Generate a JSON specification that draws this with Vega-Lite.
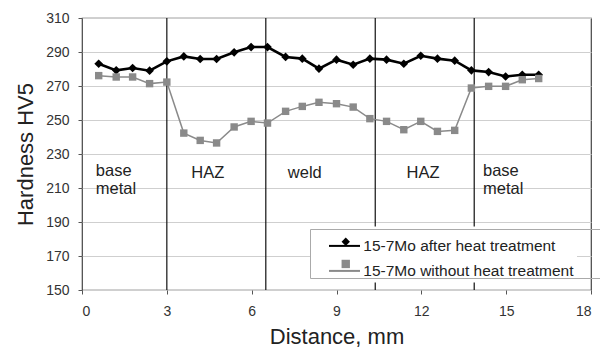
{
  "$schema": "https://vega.github.io/schema/vega-lite/v6.json",
  "autosize": "none",
  "width": 509,
  "height": 272,
  "padding": {"left": 82, "top": 18, "right": 9, "bottom": 59},
  "background": "white",
  "config": {
    "font": "Liberation Sans",
    "view": {"stroke": "#444", "strokeWidth": 1.2},
    "axis": {"labelFont": "Liberation Sans", "titleFont": "Liberation Sans", "titleFontWeight": "normal", "labelFontSize": 14, "labelColor": "#333", "titleColor": "#222", "titleFontSize": 22, "tickColor": "#555", "tickSize": 4, "domain": false, "labelOverlap": false}
  },
  "datasets": {
    "hv": [
      {"x": 0.59, "v": 283.1, "s": "15-7Mo after heat treatment"},
      {"x": 1.21, "v": 279.2, "s": "15-7Mo after heat treatment"},
      {"x": 1.79, "v": 280.6, "s": "15-7Mo after heat treatment"},
      {"x": 2.39, "v": 279.0, "s": "15-7Mo after heat treatment"},
      {"x": 3.0, "v": 284.5, "s": "15-7Mo after heat treatment"},
      {"x": 3.6, "v": 287.4, "s": "15-7Mo after heat treatment"},
      {"x": 4.18, "v": 285.9, "s": "15-7Mo after heat treatment"},
      {"x": 4.76, "v": 285.9, "s": "15-7Mo after heat treatment"},
      {"x": 5.38, "v": 289.8, "s": "15-7Mo after heat treatment"},
      {"x": 5.98, "v": 292.9, "s": "15-7Mo after heat treatment"},
      {"x": 6.56, "v": 292.9, "s": "15-7Mo after heat treatment"},
      {"x": 7.2, "v": 287.1, "s": "15-7Mo after heat treatment"},
      {"x": 7.79, "v": 286.1, "s": "15-7Mo after heat treatment"},
      {"x": 8.38, "v": 280.2, "s": "15-7Mo after heat treatment"},
      {"x": 9.0, "v": 285.5, "s": "15-7Mo after heat treatment"},
      {"x": 9.59, "v": 282.5, "s": "15-7Mo after heat treatment"},
      {"x": 10.18, "v": 286.1, "s": "15-7Mo after heat treatment"},
      {"x": 10.77, "v": 285.5, "s": "15-7Mo after heat treatment"},
      {"x": 11.38, "v": 283.1, "s": "15-7Mo after heat treatment"},
      {"x": 11.98, "v": 287.8, "s": "15-7Mo after heat treatment"},
      {"x": 12.57, "v": 286.1, "s": "15-7Mo after heat treatment"},
      {"x": 13.18, "v": 284.9, "s": "15-7Mo after heat treatment"},
      {"x": 13.77, "v": 279.2, "s": "15-7Mo after heat treatment"},
      {"x": 14.38, "v": 278.2, "s": "15-7Mo after heat treatment"},
      {"x": 14.98, "v": 275.6, "s": "15-7Mo after heat treatment"},
      {"x": 15.57, "v": 276.6, "s": "15-7Mo after heat treatment"},
      {"x": 16.15, "v": 276.6, "s": "15-7Mo after heat treatment"},
      {"x": 0.59, "v": 276.1, "s": "15-7Mo without heat treatment"},
      {"x": 1.21, "v": 275.3, "s": "15-7Mo without heat treatment"},
      {"x": 1.79, "v": 275.3, "s": "15-7Mo without heat treatment"},
      {"x": 2.39, "v": 271.4, "s": "15-7Mo without heat treatment"},
      {"x": 3.0, "v": 272.3, "s": "15-7Mo without heat treatment"},
      {"x": 3.6, "v": 242.3, "s": "15-7Mo without heat treatment"},
      {"x": 4.18, "v": 238.0, "s": "15-7Mo without heat treatment"},
      {"x": 4.76, "v": 236.5, "s": "15-7Mo without heat treatment"},
      {"x": 5.38, "v": 245.9, "s": "15-7Mo without heat treatment"},
      {"x": 5.98, "v": 249.2, "s": "15-7Mo without heat treatment"},
      {"x": 6.56, "v": 248.2, "s": "15-7Mo without heat treatment"},
      {"x": 7.2, "v": 255.1, "s": "15-7Mo without heat treatment"},
      {"x": 7.79, "v": 258.0, "s": "15-7Mo without heat treatment"},
      {"x": 8.38, "v": 260.4, "s": "15-7Mo without heat treatment"},
      {"x": 9.0, "v": 259.6, "s": "15-7Mo without heat treatment"},
      {"x": 9.59, "v": 257.6, "s": "15-7Mo without heat treatment"},
      {"x": 10.18, "v": 250.8, "s": "15-7Mo without heat treatment"},
      {"x": 10.77, "v": 249.2, "s": "15-7Mo without heat treatment"},
      {"x": 11.38, "v": 244.3, "s": "15-7Mo without heat treatment"},
      {"x": 11.98, "v": 249.2, "s": "15-7Mo without heat treatment"},
      {"x": 12.57, "v": 243.3, "s": "15-7Mo without heat treatment"},
      {"x": 13.18, "v": 243.9, "s": "15-7Mo without heat treatment"},
      {"x": 13.77, "v": 268.8, "s": "15-7Mo without heat treatment"},
      {"x": 14.38, "v": 269.8, "s": "15-7Mo without heat treatment"},
      {"x": 14.98, "v": 269.8, "s": "15-7Mo without heat treatment"},
      {"x": 15.57, "v": 273.7, "s": "15-7Mo without heat treatment"},
      {"x": 16.15, "v": 274.4, "s": "15-7Mo without heat treatment"}
    ],
    "zones": [
      {"x": 3.0},
      {"x": 6.5},
      {"x": 10.37},
      {"x": 13.87}
    ],
    "labelsLeft": [
      {"x": 0.49, "v": 219.8, "t": "base\nmetal"},
      {"x": 14.18, "v": 219.8, "t": "base\nmetal"}
    ],
    "labelsCenter": [
      {"x": 4.45, "v": 218.8, "t": "HAZ"},
      {"x": 7.88, "v": 218.8, "t": "weld"},
      {"x": 12.06, "v": 218.8, "t": "HAZ"}
    ]
  },
  "layer": [
    {
      "data": {"name": "zones"},
      "mark": {"type": "rule", "color": "#111", "strokeWidth": 1.2},
      "encoding": {
        "x": {"field": "x", "type": "quantitative", "scale": {"domain": [0, 18], "nice": false, "zero": false},
          "axis": {"title": "Distance, mm", "values": [0, 3, 6, 9, 12, 15, 18], "grid": false, "labelOverlap": false, "labelPadding": 10, "titleY": 53.6, "titleBaseline": "alphabetic"}}
      }
    },
    {
      "data": {"name": "labelsLeft"},
      "mark": {"type": "text", "align": "left", "baseline": "middle", "lineBreak": "\n", "lineHeight": 18, "fontSize": 16.5, "color": "#222"},
      "encoding": {
        "x": {"field": "x", "type": "quantitative", "scale": {"domain": [0, 18], "nice": false, "zero": false},
          "axis": {"title": "Distance, mm", "values": [0, 3, 6, 9, 12, 15, 18], "grid": false, "labelOverlap": false, "labelPadding": 10, "titleY": 53.6, "titleBaseline": "alphabetic"}},
        "y": {"field": "v", "type": "quantitative", "scale": {"domain": [150, 310], "nice": false, "zero": false},
          "axis": {"title": "Hardness HV5", "values": [150, 170, 190, 210, 230, 250, 270, 290, 310], "grid": true, "gridColor": "#cfcfcf", "labelOverlap": false, "labelPadding": 9, "titleX": -50, "titleY": 136, "titleAngle": 270, "titleAlign": "center", "titleBaseline": "alphabetic"}},
        "text": {"field": "t"}
      }
    },
    {
      "data": {"name": "labelsCenter"},
      "mark": {"type": "text", "align": "center", "baseline": "middle", "fontSize": 16.5, "color": "#222"},
      "encoding": {
        "x": {"field": "x", "type": "quantitative", "scale": {"domain": [0, 18], "nice": false, "zero": false},
          "axis": {"title": "Distance, mm", "values": [0, 3, 6, 9, 12, 15, 18], "grid": false, "labelOverlap": false, "labelPadding": 10, "titleY": 53.6, "titleBaseline": "alphabetic"}},
        "y": {"field": "v", "type": "quantitative", "scale": {"domain": [150, 310], "nice": false, "zero": false},
          "axis": {"title": "Hardness HV5", "values": [150, 170, 190, 210, 230, 250, 270, 290, 310], "grid": true, "gridColor": "#cfcfcf", "labelOverlap": false, "labelPadding": 9, "titleX": -50, "titleY": 136, "titleAngle": 270, "titleAlign": "center", "titleBaseline": "alphabetic"}},
        "text": {"field": "t"}
      }
    },
    {
      "data": {"name": "hv"},
      "mark": {"type": "line"},
      "encoding": {
        "x": {"field": "x", "type": "quantitative", "scale": {"domain": [0, 18], "nice": false, "zero": false},
          "axis": {"title": "Distance, mm", "values": [0, 3, 6, 9, 12, 15, 18], "grid": false, "labelOverlap": false, "labelPadding": 10, "titleY": 53.6, "titleBaseline": "alphabetic"}},
        "y": {"field": "v", "type": "quantitative", "scale": {"domain": [150, 310], "nice": false, "zero": false},
          "axis": {"title": "Hardness HV5", "values": [150, 170, 190, 210, 230, 250, 270, 290, 310], "grid": true, "gridColor": "#cfcfcf", "labelOverlap": false, "labelPadding": 9, "titleX": -50, "titleY": 136, "titleAngle": 270, "titleAlign": "center", "titleBaseline": "alphabetic"}},
        "color": {"field": "s", "type": "nominal", "scale": {"range": ["#000000", "#8a8a8a"]},
          "legend": {"title": null, "orient": "none", "legendX": 228, "legendY": 208.4, "symbolType": "stroke", "symbolSize": 961, "symbolStrokeWidth": 2, "symbolOffset": 15, "labelOffset": 2.3, "labelFontSize": 15.5, "labelLimit": 400, "labelColor": "#222", "labelFont": "Liberation Sans", "padding": 3, "rowPadding": -15, "fillColor": "white"}},
        "strokeWidth": {"field": "s", "type": "nominal", "scale": {"range": [2.6, 1.5]}, "legend": null}
      }
    },
    {
      "data": {"name": "hv"},
      "mark": {"type": "point", "filled": true, "opacity": 1},
      "encoding": {
        "x": {"field": "x", "type": "quantitative", "scale": {"domain": [0, 18], "nice": false, "zero": false},
          "axis": {"title": "Distance, mm", "values": [0, 3, 6, 9, 12, 15, 18], "grid": false, "labelOverlap": false, "labelPadding": 10, "titleY": 53.6, "titleBaseline": "alphabetic"}},
        "y": {"field": "v", "type": "quantitative", "scale": {"domain": [150, 310], "nice": false, "zero": false},
          "axis": {"title": "Hardness HV5", "values": [150, 170, 190, 210, 230, 250, 270, 290, 310], "grid": true, "gridColor": "#cfcfcf", "labelOverlap": false, "labelPadding": 9, "titleX": -50, "titleY": 136, "titleAngle": 270, "titleAlign": "center", "titleBaseline": "alphabetic"}},
        "color": {"field": "s", "type": "nominal", "legend": null},
        "size": {"field": "s", "type": "nominal", "scale": {"range": [75, 55]}, "legend": null},
        "shape": {"field": "s", "type": "nominal",
          "scale": {"domain": ["15-7Mo after heat treatment", "15-7Mo without heat treatment"], "range": ["diamond", "square"]},
          "legend": {"title": null, "orient": "none", "legendX": 228, "legendY": 211, "labelFontSize": 15.5, "labelLimit": 400, "labelOpacity": 0, "labelOffset": 36, "padding": 5, "rowPadding": 5.2, "symbolOffset": 23, "symbolSize": 70, "symbolOpacity": 1,
            "symbolFillColor": {"expr": "scale('color', datum.value)"}, "symbolStrokeColor": "transparent", "strokeColor": "#aaa"}}
      }
    }
  ]
}
